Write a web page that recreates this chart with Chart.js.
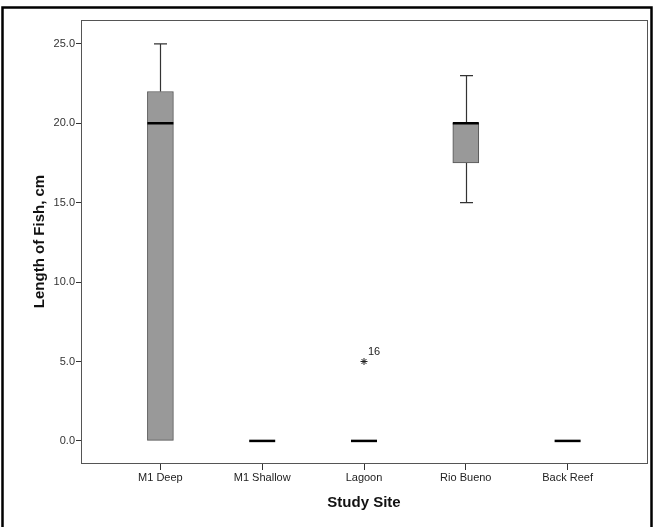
<!DOCTYPE html>
<html>
<head>
<meta charset="utf-8">
<script src="https://cdn.jsdelivr.net/npm/chart.js@4/dist/chart.umd.min.js"></script>
<style>
  body { margin: 0; background: #fff; }
  canvas { display: block; }
</style>
</head>
<body>
<canvas id="BoxChart" width="654" height="527"></canvas>
<script>
// box plot values
const sites = ["M1 Deep", "M1 Shallow", "Lagoon", "Rio Bueno", "Back Reef"];
const lowWhisker = [0, 0, 0, 15, 0];
const q1 = [0, 0, 0, 17.5, 0];
const median = [20, 0, 0, 20, 0];
const q3 = [22, 0, 0, 20, 0];
const highWhisker = [25, 0, 0, 23, 0];

const outlierSite = [2];
const outlierValue = [5];
const outlierCase = ["16"];

const yTicks = [0, 5, 10, 15, 20, 25];

const BOX_W = 26;
const fontFamily = "'Liberation Sans', Arial, sans-serif";

// whiskers, medians, frame and the case label
const boxExtras = {
  id: "boxExtras",
  beforeDraw(chart) {
    const c = chart.ctx;
    c.save();
    c.strokeStyle = "#000";
    c.lineWidth = 2.5;
    c.strokeRect(2.5, 7.5, 649, 600);
    c.restore();
  },
  afterDatasetsDraw(chart) {
    const c = chart.ctx;
    const xs = chart.scales.x;
    const ys = chart.scales.y;
    const a = chart.chartArea;
    c.save();
    // whiskers
    c.strokeStyle = "#333";
    c.lineWidth = 1.2;
    sites.forEach(function (s, i) {
      const x = Math.round(xs.getPixelForValue(i)) + 0.5;
      if (highWhisker[i] > q3[i]) {
        c.beginPath();
        c.moveTo(x, ys.getPixelForValue(q3[i]));
        c.lineTo(x, ys.getPixelForValue(highWhisker[i]));
        c.moveTo(x - BOX_W / 4, ys.getPixelForValue(highWhisker[i]));
        c.lineTo(x + BOX_W / 4, ys.getPixelForValue(highWhisker[i]));
        c.stroke();
      }
      if (lowWhisker[i] < q1[i]) {
        c.beginPath();
        c.moveTo(x, ys.getPixelForValue(q1[i]));
        c.lineTo(x, ys.getPixelForValue(lowWhisker[i]));
        c.moveTo(x - BOX_W / 4, ys.getPixelForValue(lowWhisker[i]));
        c.lineTo(x + BOX_W / 4, ys.getPixelForValue(lowWhisker[i]));
        c.stroke();
      }
    });
    // medians
    c.strokeStyle = "#000";
    c.lineWidth = 2.5;
    sites.forEach(function (s, i) {
      const x = xs.getPixelForValue(i);
      const y = ys.getPixelForValue(median[i]);
      c.beginPath();
      c.moveTo(x - BOX_W / 2, y);
      c.lineTo(x + BOX_W / 2, y);
      c.stroke();
    });
    // outlier case numbers
    c.fillStyle = "#222";
    c.font = "11px " + fontFamily;
    c.textAlign = "left";
    c.textBaseline = "middle";
    outlierSite.forEach(function (s, k) {
      c.fillText(outlierCase[k], xs.getPixelForValue(s) + 4, ys.getPixelForValue(outlierValue[k]) - 10);
    });
    // plot frame
    c.strokeStyle = "#555";
    c.lineWidth = 1;
    c.strokeRect(Math.round(a.left) + 0.5, Math.round(a.top) + 0.5,
      Math.round(a.right - a.left), Math.round(a.bottom - a.top));
    c.restore();
  },
};

const ctx = document.getElementById("BoxChart");

new Chart(ctx, {
  type: "bar",
  data: {
    datasets: [
      {
        label: "box",
        data: sites.map(function (s, i) {
          return { x: i, y: [q1[i], q3[i]] };
        }),
        backgroundColor: "#999999",
        borderColor: "#555555",
        borderWidth: 1,
        borderSkipped: false,
        barThickness: BOX_W,
      },
      {
        type: "scatter",
        label: "outliers",
        data: outlierSite.map(function (s, k) {
          return { x: s, y: outlierValue[k] };
        }),
        pointStyle: "star",
        radius: 3.5,
        borderColor: "#222",
        borderWidth: 1,
        backgroundColor: "#222",
      },
    ],
  },
  options: {
    responsive: false,
    animation: false,
    layout: { padding: { left: 0, right: 7, top: 20, bottom: 0 } },
    plugins: {
      legend: { display: false },
      tooltip: { enabled: false },
    },
    scales: {
      x: {
        type: "linear",
        offset: false,
        min: -0.78,
        max: 4.78,
        afterBuildTicks: function (scale) {
          scale.ticks = sites.map(function (s, i) {
            return { value: i };
          });
        },
        afterFit: function (scale) {
          scale.height = 64;
        },
        ticks: {
          color: "#222",
          font: { family: fontFamily, size: 11 },
          padding: 1,
          maxRotation: 0,
          callback: function (v) {
            return sites[v];
          },
        },
        grid: {
          offset: false,
          drawOnChartArea: false,
          tickLength: 7,
          tickColor: "#333",
        },
        border: { display: false },
        title: {
          display: true,
          text: "Study Site",
          color: "#111",
          font: { family: fontFamily, size: 15, weight: "bold" },
          padding: { top: 0, bottom: 15 },
        },
      },
      y: {
        min: -1.39,
        max: 26.5,
        afterBuildTicks: function (scale) {
          scale.ticks = yTicks.map(function (v) {
            return { value: v };
          });
        },
        afterFit: function (scale) {
          scale.width = 81;
        },
        ticks: {
          color: "#333",
          font: { family: fontFamily, size: 11 },
          padding: 1,
          callback: function (v) {
            return v.toFixed(1);
          },
        },
        grid: {
          drawOnChartArea: false,
          tickLength: 5,
          tickColor: "#333",
        },
        border: { display: false },
        title: {
          display: true,
          text: "Length of Fish, cm",
          color: "#111",
          font: { family: fontFamily, size: 15, weight: "bold" },
          padding: { top: 31, bottom: 0 },
        },
      },
    },
  },
  plugins: [boxExtras],
});
</script>
</body>
</html>
